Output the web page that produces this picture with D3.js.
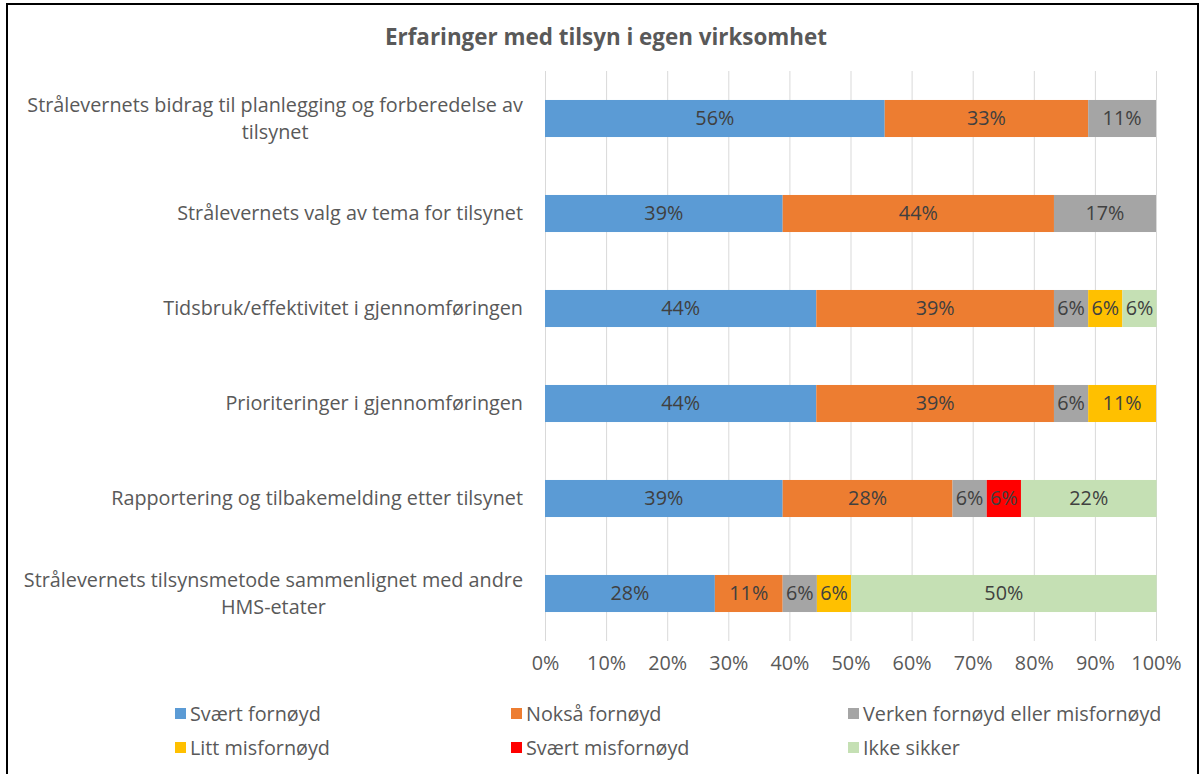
<!DOCTYPE html>
<html>
<head>
<meta charset="utf-8">
<script src="https://cdn.jsdelivr.net/npm/d3@7"></script>
<style>
  body { margin: 0; background: #fff; }
  svg text { font-family: "Open Sans", Lato, sans-serif; }
</style>
</head>
<body>
<svg id="chart" width="1203" height="774"></svg>
<script>
const categories = [
  "Strålevernets bidrag til planlegging og forberedelse av|tilsynet",
  "Strålevernets valg av tema for tilsynet",
  "Tidsbruk/effektivitet i gjennomføringen",
  "Prioriteringer i gjennomføringen ",
  "Rapportering og tilbakemelding etter tilsynet",
  "Strålevernets tilsynsmetode sammenlignet med andre|HMS-etater"
];
const seriesNames = ["Svært fornøyd", "Nokså fornøyd", "Verken fornøyd eller misfornøyd",
                     "Litt misfornøyd", "Svært misfornøyd", "Ikke sikker"];
const seriesColors = ["#5B9BD5", "#ED7D31", "#A5A5A5", "#FFC000", "#FF0000", "#C5E0B4"];

// andel i prosent, én rad per kategori
const svaertFornoyd  = [55.6, 38.9, 44.4, 44.4, 38.9, 27.8];
const noksaFornoyd   = [33.3, 44.4, 38.9, 38.9, 27.8, 11.1];
const verken         = [11.1, 16.7, 5.6, 5.6, 5.6, 5.6];
const littMisfornoyd = [0, 0, 5.6, 11.1, 0, 5.6];
const svaertMisforn  = [0, 0, 0, 0, 5.6, 0];
const ikkeSikker     = [0, 0, 5.6, 0, 22.2, 50.0];
const xTicks = [0, 10, 20, 30, 40, 50, 60, 70, 80, 90, 100];

const values = [svaertFornoyd, noksaFornoyd, verken, littMisfornoyd, svaertMisforn, ikkeSikker];
const rows = categories.map((c, i) => {
  const r = { cat: c };
  seriesNames.forEach((s, j) => r[s] = values[j][i]);
  return r;
});

const fs = 19.8;
const svg = d3.select("#chart");

// ramme
svg.append("rect")
  .attr("x", 7).attr("y", 4).attr("width", 1191).attr("height", 800)
  .attr("fill", "none").attr("stroke", "#000").attr("stroke-width", 2);

svg.append("text")
  .attr("x", 606).attr("y", 45)
  .attr("text-anchor", "middle")
  .attr("font-size", 22.4).attr("font-weight", "bold")
  .attr("fill", "#595959")
  .text("Erfaringer med tilsyn i egen virksomhet");

const x = d3.scaleLinear().domain([0, 100]).range([545, 1156]);
const y = d3.scaleBand().domain(categories).range([71, 641]).paddingInner(0.61).paddingOuter(0.305);

// rutenett
svg.append("g")
  .selectAll("line")
  .data(xTicks)
  .join("line")
  .attr("x1", d => x(d) + 0.5).attr("x2", d => x(d) + 0.5)
  .attr("y1", 71).attr("y2", 641)
  .attr("stroke", "#D9D9D9").attr("stroke-width", 1);

const xAxis = svg.append("g")
  .attr("transform", "translate(0,641)")
  .call(d3.axisBottom(x).tickValues(xTicks).tickFormat(d => d + "%").tickSize(0).tickPadding(15));
xAxis.select(".domain").remove();
xAxis.selectAll("text")
  .attr("font-size", fs).attr("fill", "#595959")
  .style("font-family", "'Open Sans', Lato, sans-serif");

const stack = d3.stack().keys(seriesNames)(rows);

const layers = svg.append("g")
  .selectAll("g")
  .data(stack)
  .join("g")
  .attr("fill", (d, i) => seriesColors[i]);

layers.selectAll("rect")
  .data(d => d.filter(p => p[1] - p[0] > 0))
  .join("rect")
  .attr("x", d => x(d[0]))
  .attr("width", d => x(d[1]) - x(d[0]))
  .attr("y", d => y(d.data.cat))
  .attr("height", y.bandwidth());

layers.selectAll("text")
  .data(d => d.filter(p => p[1] - p[0] > 0))
  .join("text")
  .attr("x", d => (x(d[0]) + x(d[1])) / 2)
  .attr("y", d => y(d.data.cat) + y.bandwidth() / 2)
  .attr("dy", "0.35em")
  .attr("text-anchor", "middle")
  .attr("font-size", fs)
  .attr("fill", "#404040")
  .text(d => Math.round(d[1] - d[0]) + "%");

// kategorietiketter, sentrert blokk høyrejustert mot aksen
const labelRight = 523;
categories.forEach(c => {
  const lines = c.split("|");
  const g = svg.append("g");
  const cy = y(c) + y.bandwidth() / 2;
  const lh = 27.5;
  const texts = lines.map((l, k) => g.append("text")
    .attr("y", cy + (k - (lines.length - 1) / 2) * lh)
    .attr("dy", "0.35em")
    .attr("text-anchor", "middle")
    .attr("font-size", fs)
    .attr("fill", "#595959")
    .text(l));
  const w = d3.max(texts, t => t.node().getComputedTextLength());
  texts.forEach(t => t.attr("x", labelRight - w / 2));
});

// legende
const legCols = [175, 511, 848];
const legRows = [714, 748];
const leg = svg.append("g")
  .selectAll("g")
  .data(seriesNames)
  .join("g")
  .attr("transform", (d, i) => `translate(${legCols[i % 3]},${legRows[Math.floor(i / 3)]})`);
leg.append("rect")
  .attr("x", 0).attr("y", -6).attr("width", 11).attr("height", 11)
  .attr("fill", (d, i) => seriesColors[i]);
leg.append("text")
  .attr("x", 15).attr("dy", "0.35em")
  .attr("font-size", fs).attr("fill", "#595959")
  .text(d => d);
</script>
</body>
</html>
